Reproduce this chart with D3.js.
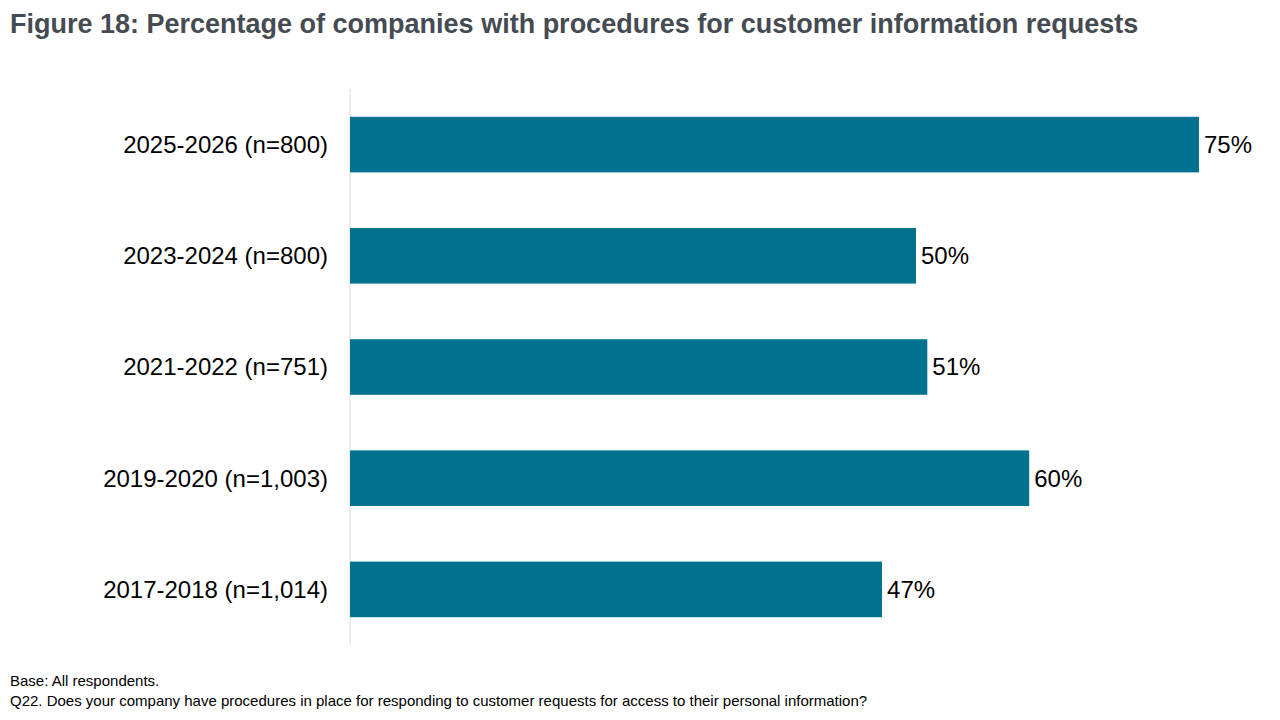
<!DOCTYPE html>
<html>
<head>
<meta charset="utf-8">
<script src="https://cdn.jsdelivr.net/npm/d3@7"></script>
<style>
  body { margin: 0; background: #fff; }
  text { font-family: "Liberation Sans", Arial, sans-serif; }
</style>
</head>
<body>
<svg id="chart" width="1280" height="720"></svg>
<script>
var categories = ["2025-2026 (n=800)", "2023-2024 (n=800)", "2021-2022 (n=751)", "2019-2020 (n=1,003)", "2017-2018 (n=1,014)"];
var values = [75, 50, 51, 60, 47];

var svg = d3.select("#chart");

svg.append("text")
  .attr("x", 10).attr("y", 33)
  .attr("font-size", 27).attr("font-weight", "bold").attr("fill", "#454b52")
  .text("Figure 18: Percentage of companies with procedures for customer information requests");

var x = d3.scaleLinear().domain([0, 75]).range([350, 1199]);
var y = d3.scaleBand().domain(categories).range([89, 645]).paddingInner(0.5).paddingOuter(0.25);

svg.append("line")
  .attr("x1", 350).attr("x2", 350).attr("y1", 89).attr("y2", 645)
  .attr("stroke", "#d9d9d9").attr("stroke-width", 1);

svg.selectAll("rect.bar")
  .data(values)
  .enter().append("rect")
  .attr("class", "bar")
  .attr("x", x(0))
  .attr("y", (d, i) => y(categories[i]))
  .attr("width", d => x(d) - x(0))
  .attr("height", y.bandwidth())
  .attr("fill", "#00728f");

svg.selectAll("text.val")
  .data(values)
  .enter().append("text")
  .attr("class", "val")
  .attr("x", d => x(d) + 5)
  .attr("y", (d, i) => y(categories[i]) + y.bandwidth() / 2)
  .attr("dy", "0.35em")
  .attr("font-size", 24).attr("fill", "#000")
  .text(d => d + "%");

svg.selectAll("text.cat")
  .data(categories)
  .enter().append("text")
  .attr("class", "cat")
  .attr("x", 328)
  .attr("y", d => y(d) + y.bandwidth() / 2)
  .attr("dy", "0.35em")
  .attr("text-anchor", "end")
  .attr("font-size", 24).attr("fill", "#000")
  .text(d => d);

svg.append("text").attr("x", 10).attr("y", 686).attr("font-size", 15).attr("fill", "#000")
  .text("Base: All respondents.");
svg.append("text").attr("x", 10).attr("y", 706).attr("font-size", 15).attr("fill", "#000")
  .text("Q22. Does your company have procedures in place for responding to customer requests for access to their personal information?");
</script>
</body>
</html>
